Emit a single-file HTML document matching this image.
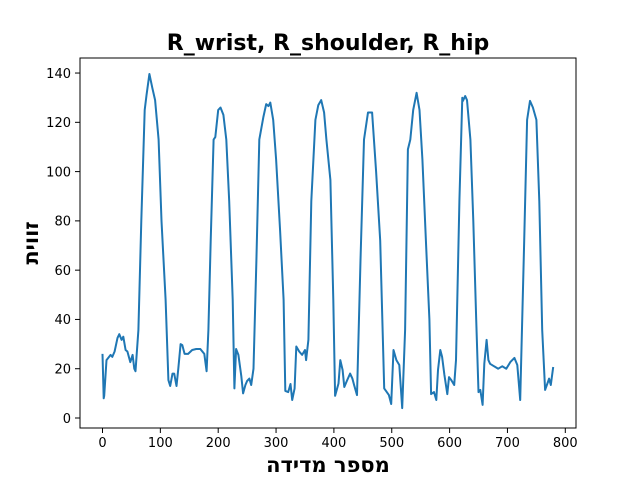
<!DOCTYPE html>
<html><head><meta charset="utf-8"><style>
body{margin:0;background:#fff}
svg{display:block;font-family:"DejaVu Sans","Liberation Sans",sans-serif}
</style></head><body>
<svg width="640" height="480" id="c">
<rect width="640" height="480" fill="#fff"/>
<text x="328" y="50" text-anchor="middle" font-size="22" font-weight="bold">R_wrist, R_shoulder, R_hip</text>
<text x="328" y="472" text-anchor="middle" font-size="21" font-weight="bold">מספר מדידה</text>
<text transform="translate(38,243) rotate(-90)" text-anchor="middle" font-size="21" font-weight="bold">זווית</text>
<g id="ticks"></g>
<path id="line" fill="none" stroke="#1f77b4" stroke-width="2" stroke-linejoin="round"/>
<rect x="80" y="58" width="496" height="370" fill="none" stroke="#000" stroke-width="1"/>
</svg>
<script>
const xs=[0,2,3,7,14,17,21,26,29,33,36,40,43,48,52,55,57,62,67,73,76,81,86,91,97,102,109,114,117,121,124,128,131,135,138,142,148,155,162,169,176,180,183,187,192,195,200,204,209,214,219,225,228,231,235,240,243,247,250,254,257,261,266,271,278,283,287,290,295,300,307,313,316,321,325,328,332,335,340,345,350,352,356,361,368,373,378,383,387,394,399,402,408,411,415,418,423,428,432,435,440,446,452,459,466,473,480,487,490,495,499,503,508,513,518,523,528,532,537,543,548,553,559,565,568,573,577,580,584,587,591,596,599,603,608,611,617,622,623,627,630,636,641,646,650,653,657,660,664,667,670,677,684,691,698,705,712,717,722,729,734,739,744,750,755,760,765,769,772,775,779];
const ys=[26,8,9,23.5,25.6,24.8,27,32.5,34,31.7,33,27.6,27,22.7,25.6,20,19,35.7,80,125,131,139.6,134,129,113,80,48,15.4,13,18,18,13,20,30,29.6,26,26,27.6,28,28,26,19,35.7,72,113,114,125,126,123,113,88,48,12,28,25.6,17,10,13.4,15,16,13.4,20,64,113,122,127.4,126.6,128,121,105,76,48,11,10.5,13.8,7.3,12,29,27,25.6,27.6,23.5,31.7,88,121,127,129,124,113,96.6,48,9,14,23.5,19.5,12.6,15.4,18,16,13.4,9.3,64,113,124,124,100,72,12,11,9.3,5.7,27.6,23.5,21.5,4,35.7,109,113,125,132,125,105,72,40,9.7,10.5,7.3,19.5,27.6,24.8,17.5,9.7,16.6,15.4,13.4,23.5,88,130,128.7,130.7,129,113,80,40,10.5,11.4,5.3,22,31.7,23.5,22,21,20,21,20,22.7,24.4,21.5,7.3,72,121,128.7,126,121,88,35.7,11.4,14,16,13.4,20.7];
const xTicks=[0,100,200,300,400,500,600,700,800];
const yTicks=[0,20,40,60,80,100,120,140];
const X=v=>102.5+v*0.5785, Y=v=>418-v*2.464;
const NS="http://www.w3.org/2000/svg";
let d="";
xs.forEach((x,i)=>{d+=(i?"L":"M")+X(x).toFixed(1)+","+Y(ys[i]).toFixed(1);});
document.getElementById("line").setAttribute("d",d);
const g=document.getElementById("ticks");
xTicks.forEach(t=>{
 const l=document.createElementNS(NS,"line");
 l.setAttribute("x1",X(t));l.setAttribute("x2",X(t));l.setAttribute("y1",428);l.setAttribute("y2",433);l.setAttribute("stroke","#000");
 
 
 g.appendChild(l);
 const s=document.createElementNS(NS,"text");
 s.setAttribute("x",X(t));s.setAttribute("y",447);s.setAttribute("text-anchor","middle");s.setAttribute("font-size","13");s.textContent=t;
 
 
 g.appendChild(s);
});
yTicks.forEach(t=>{
 const l=document.createElementNS(NS,"line");
 l.setAttribute("x1",75);l.setAttribute("x2",80);l.setAttribute("y1",Y(t));l.setAttribute("y2",Y(t));l.setAttribute("stroke","#000");
 
 
 g.appendChild(l);
 const s=document.createElementNS(NS,"text");
 s.setAttribute("x",71);s.setAttribute("y",Y(t)+4.8);s.setAttribute("text-anchor","end");s.setAttribute("font-size","13");s.textContent=t;
 
 
 g.appendChild(s);
});
</script>
</body></html>
